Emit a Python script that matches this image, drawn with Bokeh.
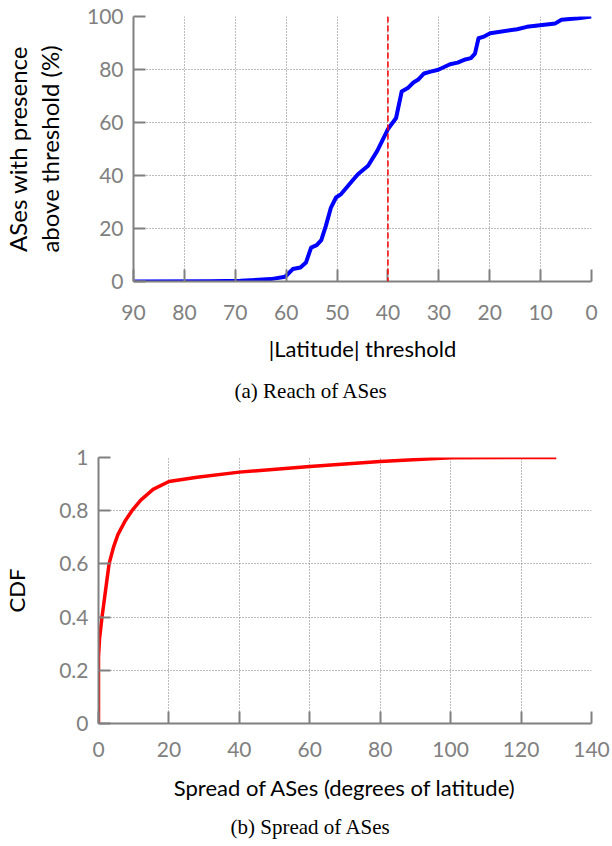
from bokeh.plotting import figure
from bokeh.models import Range1d, FixedTicker, Span, Title, CustomJSTickFormatter
from bokeh.layouts import column, row
from bokeh.embed import file_html
from bokeh.resources import INLINE

# ---------------- data ----------------
lat_threshold = [90, 75, 69, 63, 60.2, 58.7, 57.2, 56.1, 55.1, 54.0, 53.1, 52.2, 51.2,
                 50.2, 49.2, 47.0, 45.9, 43.9, 42.1, 40.0, 38.4, 37.3, 36.1, 35.0, 34.1,
                 32.9, 31.6, 30.1, 27.8, 26.3, 24.8, 23.7, 22.9, 22.2, 21.3, 19.9, 14.6,
                 12.7, 7.1, 5.9, 2.6, 0]
pct_above = [0, 0.1, 0.3, 0.9, 1.8, 4.7, 5.3, 7.2, 12.8, 13.7, 15.6, 21.0, 27.9,
             31.7, 33.0, 38.0, 40.5, 43.7, 49.3, 57.5, 61.7, 71.7, 73.0, 75.1, 76.1,
             78.5, 79.2, 79.9, 82.0, 82.6, 83.8, 84.3, 86.0, 91.8, 92.3, 93.7, 95.2,
             96.1, 97.4, 98.8, 99.3, 100]
threshold_marker = 40

spread_deg = [0, 0, 0.3, 1.0, 2.0, 3.0, 4.2, 5.5, 7.5, 9.5, 12, 15.5, 20, 28, 40, 60, 80, 100, 130]
cdf_vals = [0, 0.25, 0.32, 0.4, 0.5, 0.6, 0.66, 0.71, 0.76, 0.8, 0.84, 0.88, 0.91, 0.926,
            0.945, 0.966, 0.985, 0.999, 1.0]

x1_ticks = [90, 80, 70, 60, 50, 40, 30, 20, 10, 0]
y1_ticks = [0, 20, 40, 60, 80, 100]
x2_ticks = [0, 20, 40, 60, 80, 100, 120, 140]
y2_ticks = [0, 0.2, 0.4, 0.6, 0.8, 1]

TICK_FONT = "Lato"
LABEL_FONT = "Lato"
CAP_FONT = "Liberation Serif"
GRAY = "#808080"


def style(p, xticks, yticks, xstand, ystand, ylabel, ylab_stand, ylab_size):
    p.outline_line_color = None
    p.background_fill_color = "white"
    p.border_fill_color = "white"
    p.xaxis.ticker = FixedTicker(ticks=xticks)
    p.yaxis.ticker = FixedTicker(ticks=yticks)
    p.xgrid.ticker = FixedTicker(ticks=xticks)
    p.ygrid.ticker = FixedTicker(ticks=yticks)
    for g in (p.xgrid, p.ygrid):
        g.grid_line_color = "#7a7a7a"
        g.grid_line_dash = "1 2"
        g.grid_line_width = 1
    for ax in (p.xaxis, p.yaxis):
        ax.axis_line_color = GRAY
        ax.axis_line_width = 2
        ax.major_tick_line_color = GRAY
        ax.major_tick_line_width = 2
        ax.major_tick_in = 12
        ax.major_tick_out = 0
        ax.minor_tick_line_color = None
        ax.major_label_text_font = TICK_FONT
        ax.major_label_text_font_size = "21px"
        ax.major_label_text_color = GRAY
        ax.axis_label_text_font = LABEL_FONT
        ax.axis_label_text_font_style = "normal"
        ax.axis_label_text_color = "black"
    p.xaxis.axis_label_text_font_size = "22px"
    p.yaxis.axis_label_text_font_size = ylab_size
    p.xaxis.major_label_standoff = xstand
    p.yaxis.major_label_standoff = ystand
    p.yaxis.axis_label = ylabel
    p.yaxis.axis_label_standoff = ylab_stand
    p.yaxis.axis_label_text_line_height = 1.0


def caption(p, text, off, standoff):
    p.add_layout(Title(text=text, align="left", offset=off, text_font=CAP_FONT,
                       text_font_size="21px", text_font_style="normal",
                       text_color="black", standoff=standoff), "below")


# ---------------- (a) ----------------
p1 = figure(width=612, height=418, x_range=Range1d(90, 0), y_range=Range1d(0, 100),
            output_backend="svg", toolbar_location=None,
            min_border_left=125, min_border_right=21, min_border_top=16, min_border_bottom=137)
# second line of the y label is the axis label, first line is a title further out
style(p1, x1_ticks, y1_ticks, 23, 10, "above threshold (%)", 20, "24px")
p1.add_layout(Title(text="ASes with presence", align="center", text_font=LABEL_FONT,
                    text_font_size="24px", text_font_style="normal",
                    text_color="black", standoff=0), "left")
p1.xaxis.axis_label = "|Latitude| threshold"
p1.xaxis.axis_label_standoff = 12
caption(p1, "(a) Reach of ASes", 101, 24)
p1.line(lat_threshold, pct_above, line_color="#0000ff", line_width=4, line_join="round")
p1.add_layout(Span(location=threshold_marker, dimension="height", line_color="#ff0000",
                   line_dash="6 3", line_width=1.5))

# ---------------- (b) ----------------
p2 = figure(width=612, height=428, x_range=Range1d(0, 140), y_range=Range1d(0, 1),
            output_backend="svg", toolbar_location=None,
            min_border_left=98, min_border_right=21, min_border_top=39, min_border_bottom=123)
style(p2, x2_ticks, y2_ticks, 18, 10, "CDF", 26, "22px")
p2.yaxis.formatter = CustomJSTickFormatter(code="return String(Math.round(tick*10)/10)")
p2.add_layout(Title(text="Spread of ASes (degrees of latitude)", align="center",
                    text_font=LABEL_FONT, text_font_size="22px", text_font_style="normal",
                    text_color="black", standoff=24), "below")
caption(p2, "(b) Spread of ASes", 132, 0)
p2.line(spread_deg, cdf_vals, line_color="#ff0000", line_width=3.5, line_join="round")

layout = column(p1, row(p2), spacing=0)
open("out.html", "w").write(file_html(layout, INLINE))
